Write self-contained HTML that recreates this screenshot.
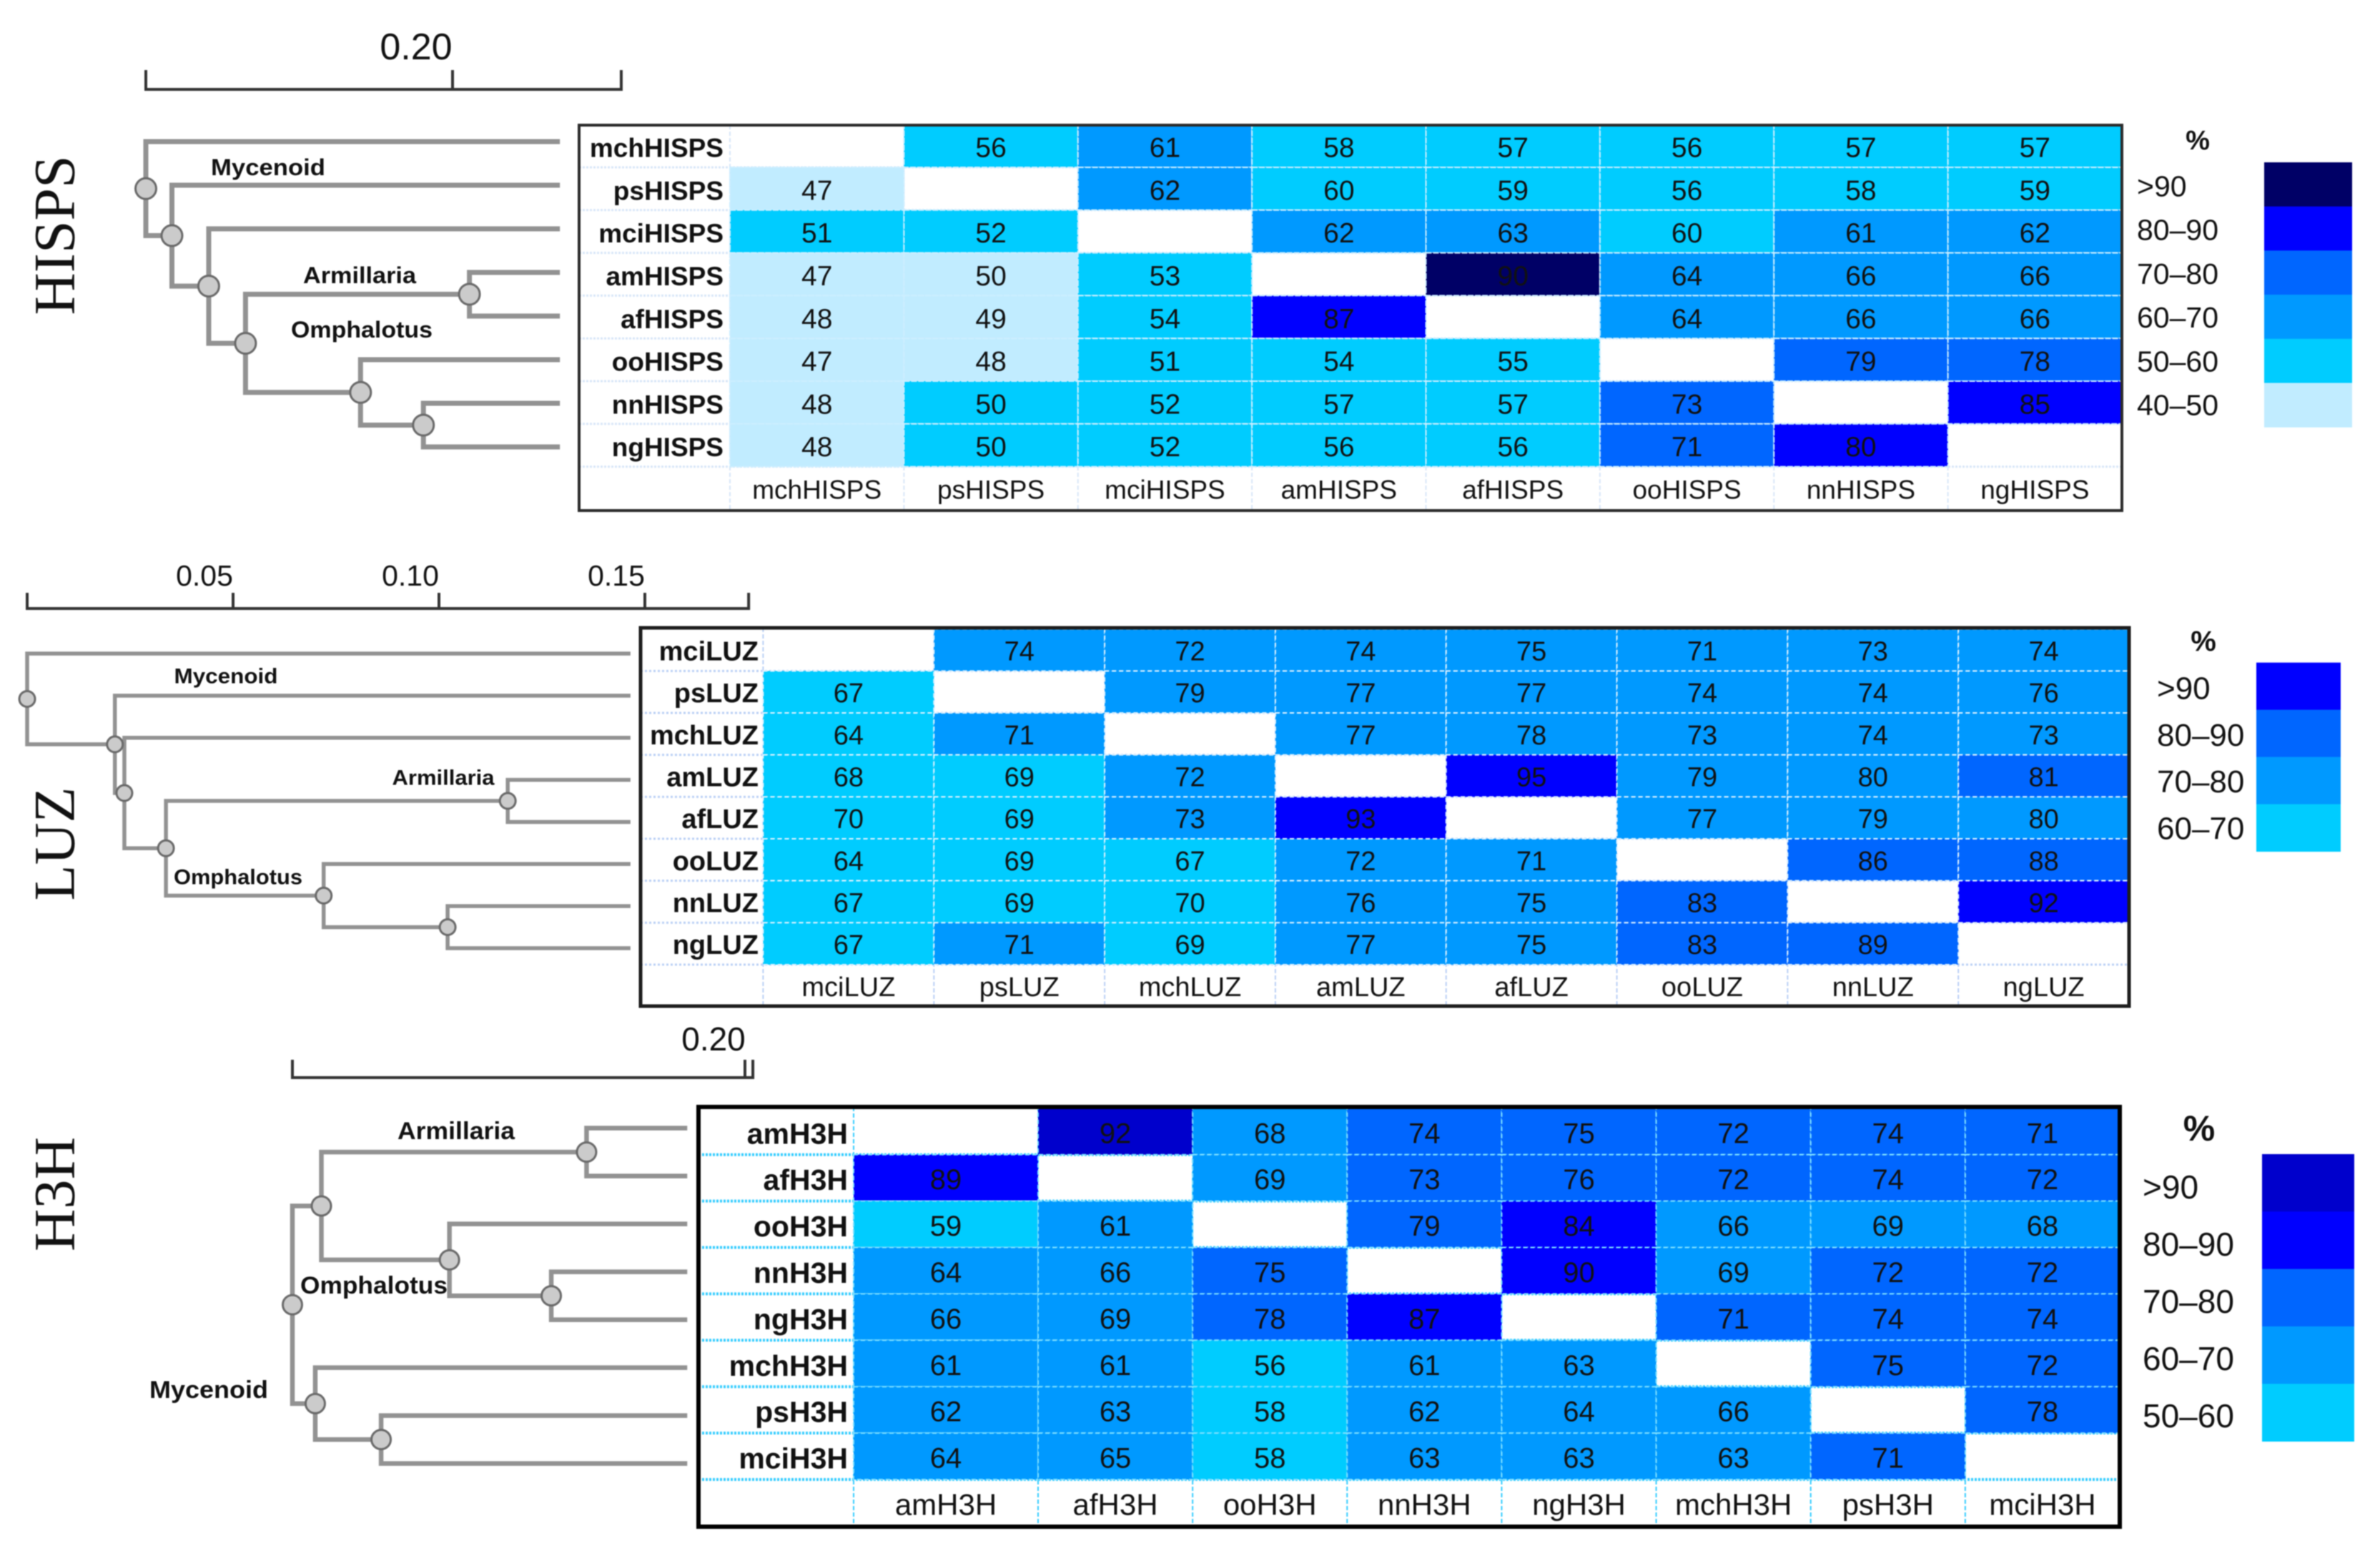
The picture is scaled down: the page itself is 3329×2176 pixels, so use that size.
<!DOCTYPE html>
<html lang="en">
<head>
<meta charset="utf-8">
<title>HISPS, LUZ and H3H identity matrices with phylogenetic trees</title>
<style>
html,body{margin:0;padding:0;background:#fff;overflow:hidden;}
svg{display:block;filter:blur(0.8px);}
text{font-family:"Liberation Sans",sans-serif;fill:#111;}
.panel-title{font-family:"Liberation Serif",serif;font-size:82px;fill:#111;}
</style>
</head>
<body>
<svg id="figure" xmlns="http://www.w3.org/2000/svg" width="3329" height="2176" viewBox="0 0 3329 2176">
  <rect width="3329" height="2176" fill="#ffffff"/>
  <g id="panel-hisps">
    <text class="panel-title" transform="translate(76 329) rotate(-90)" text-anchor="middle" dominant-baseline="central" textLength="223" lengthAdjust="spacingAndGlyphs">HISPS</text>
    <text x="375" y="234" text-anchor="middle" dominant-baseline="central" font-size="32" font-weight="bold" textLength="160" lengthAdjust="spacingAndGlyphs">Mycenoid</text>
    <text x="503" y="385" text-anchor="middle" dominant-baseline="central" font-size="32" font-weight="bold" textLength="158" lengthAdjust="spacingAndGlyphs">Armillaria</text>
    <text x="506" y="461" text-anchor="middle" dominant-baseline="central" font-size="32" font-weight="bold" textLength="198" lengthAdjust="spacingAndGlyphs">Omphalotus</text>
  </g>
  <g id="panel-luz">
    <text class="panel-title" transform="translate(76 1180) rotate(-90)" text-anchor="middle" dominant-baseline="central" textLength="159" lengthAdjust="spacingAndGlyphs">LUZ</text>
    <text x="316" y="946" text-anchor="middle" dominant-baseline="central" font-size="30" font-weight="bold" textLength="145" lengthAdjust="spacingAndGlyphs">Mycenoid</text>
    <text x="620" y="1088" text-anchor="middle" dominant-baseline="central" font-size="30" font-weight="bold" textLength="143" lengthAdjust="spacingAndGlyphs">Armillaria</text>
    <text x="333" y="1227" text-anchor="middle" dominant-baseline="central" font-size="30" font-weight="bold" textLength="180" lengthAdjust="spacingAndGlyphs">Omphalotus</text>
  </g>
  <g id="panel-h3h">
    <text class="panel-title" transform="translate(76 1670) rotate(-90)" text-anchor="middle" dominant-baseline="central" textLength="160" lengthAdjust="spacingAndGlyphs">H3H</text>
    <text x="638" y="1582" text-anchor="middle" dominant-baseline="central" font-size="34" font-weight="bold" textLength="164" lengthAdjust="spacingAndGlyphs">Armillaria</text>
    <text x="523" y="1798" text-anchor="middle" dominant-baseline="central" font-size="34" font-weight="bold" textLength="206" lengthAdjust="spacingAndGlyphs">Omphalotus</text>
    <text x="292" y="1944" text-anchor="middle" dominant-baseline="central" font-size="34" font-weight="bold" textLength="166" lengthAdjust="spacingAndGlyphs">Mycenoid</text>
  </g>
</svg>
<script>
// ---------- HISPS data ----------
const hispsTaxa = ['mchHISPS','psHISPS','mciHISPS','amHISPS','afHISPS','ooHISPS','nnHISPS','ngHISPS'];
const hispsValues = [
  [null,56,61,58,57,56,57,57],
  [47,null,62,59.6,59,56,58,59],
  [51,52,null,62,63,59.6,61,62],
  [47,49.6,53,null,90,64,66,66],
  [48,49,54,87,null,64,66,66],
  [47,48,51,54,55,null,79,78],
  [48,50,52,57,57,73,null,85],
  [48,50,52,56,56,71,80,null]
];
const hispsBandLabels = ['>90','80–90','70–80','60–70','50–60','40–50'];
const hispsBandFloors = [90,80,70,60,50,40];
const hispsTicks = [0.20];
const hispsBarEnd = 0.31;
const hispsLeafDepth = 0.27;
const hispsTree = [0,'mchHISPS',[0.017,'psHISPS',[0.041,'mciHISPS',[0.065,[0.211,'amHISPS','afHISPS'],[0.14,'ooHISPS',[0.181,'nnHISPS','ngHISPS']]]]]];

// ---------- LUZ data ----------
const luzTaxa = ['mciLUZ','psLUZ','mchLUZ','amLUZ','afLUZ','ooLUZ','nnLUZ','ngLUZ'];
const luzValues = [
  [null,74,72,74,75,71,73,74],
  [67,null,79,77,77,74,74,76],
  [64,71,null,77,78,73,74,73],
  [68,69,72,null,95,79,79.6,81],
  [69.6,69,73,93,null,77,79,79.6],
  [64,69,67,72,71,null,86,88],
  [67,69,69.6,76,75,83,null,92],
  [67,71,69,77,75,83,89,null]
];
const luzBandLabels = ['>90','80–90','70–80','60–70'];
const luzBandFloors = [90,80,70,60];
const luzTicks = [0.05,0.10,0.15];
const luzBarEnd = 0.1752;
const luzLeafDepth = 0.1465;
const luzTree = [0,'mciLUZ',[0.0213,'psLUZ',[0.0236,'mchLUZ',[0.0337,[0.1167,'amLUZ','afLUZ'],[0.072,'ooLUZ',[0.1021,'nnLUZ','ngLUZ']]]]]];

// ---------- H3H data ----------
const h3hTaxa = ['amH3H','afH3H','ooH3H','nnH3H','ngH3H','mchH3H','psH3H','mciH3H'];
const h3hValues = [
  [null,92,68,74,75,72,74,71],
  [89,null,69,73,76,72,74,72],
  [59,61,null,79,84,66,69,68],
  [64,66,75,null,89.6,69,72,72],
  [66,69,78,87,null,71,74,74],
  [61,61,56,61,63,null,75,72],
  [62,63,58,62,64,66,null,78],
  [64,65,58,63,63,63,71,null]
];
const h3hBandLabels = ['>90','80–90','70–80','60–70','50–60'];
const h3hBandFloors = [90,80,70,60,50];
const h3hTicks = [0.20];
const h3hBarEnd = 0.2035;
const h3hLeafDepth = 0.1745;
const h3hTree = [0,[0.0128,[0.13,'amH3H','afH3H'],[0.0694,'ooH3H',[0.1144,'nnH3H','ngH3H']]],[0.0101,'mchH3H',[0.0392,'psH3H','mciH3H']]];

// ---------- colour ramps (one per legend) ----------
const hispsRamp = ['#000066','#0000ff','#0066ff','#0099ff','#00ccff','#c1ecff'];
const luzRamp = ['#0000ff','#0066ff','#0099ff','#00ccff'];
const h3hRamp = ['#0000cc','#0000ff','#0066ff','#0099ff','#00ccff'];

const SVGNS = 'http://www.w3.org/2000/svg';

function mk(parent, tag, attrs, content) {
  const el = document.createElementNS(SVGNS, tag);
  for (const k in attrs) el.setAttribute(k, attrs[k]);
  if (content !== undefined) el.textContent = content;
  parent.appendChild(el);
  return el;
}

function bandIndex(value, floors) {
  for (let i = 0; i < floors.length; i++) {
    if (value >= floors[i]) return i;
  }
  return floors.length - 1;
}

function drawScaleBar(root, p) {
  const sx = d => p.treeX0 + d * p.treePx;
  const bar = mk(root, 'path', {
    d: 'M' + sx(0) + ' ' + p.barTop + 'V' + p.barY + 'H' + sx(p.barEnd) + 'V' + p.barTop,
    fill: 'none', stroke: '#333', 'stroke-width': 4
  });
  
  
  p.ticks.forEach(function (t) {
    const tick = mk(root, 'line', {x1: sx(t), x2: sx(t), y1: p.barTop, y2: p.barY, stroke: '#333', 'stroke-width': 4});
    
    
    const label = mk(root, 'text', {
      x: sx(t) + p.tickDx, y: p.tickLabelY, 'text-anchor': 'middle', 'dominant-baseline': 'central',
      'font-size': p.tickFont
    }, t.toFixed(2));
    
    
  });
}

function drawTree(root, p) {
  const sx = d => p.treeX0 + d * p.treePx;
  const leafY = i => p.leafY0 + i * p.leafStep;
  const leafX = sx(p.leafDepth);
  const nodes = [];
  let next = 0;
  function branch(d) {
    const b = mk(root, 'path', {d: d, fill: 'none', stroke: '#929292', 'stroke-width': p.lineW, 'stroke-linecap': 'butt', 'stroke-linejoin': 'miter'});
    
    
  }
  function walk(node) {
    if (typeof node === 'string') {
      return {x: leafX, y: leafY(next++)};
    }
    const x = sx(node[0]);
    const a = walk(node[1]);
    const b = walk(node[2]);
    const y = (a.y + b.y) / 2;
    branch('M' + a.x + ' ' + a.y + 'H' + x + 'V' + b.y + 'H' + b.x);
    nodes.push({x: x, y: y});
    return {x: x, y: y};
  }
  walk(p.tree);
  nodes.forEach(function (n) {
    const c = mk(root, 'ellipse', {cx: n.x, cy: n.y, rx: p.nodeR, ry: p.nodeR, fill: '#cbcbcb', stroke: '#6a6a6a', 'stroke-width': 3});
    
    
  });
}

function drawMatrix(root, p) {
  const n = p.taxa.length;
  const dataW = p.right - p.labelRight;
  const restW = (dataW - p.firstCol) / (n - 1);
  const colX = i => i === 0 ? p.labelRight : p.labelRight + p.firstCol + (i - 1) * restW;
  const colW = i => i === 0 ? p.firstCol : restW;
  const rowY = i => p.top + i * p.rowH;

  for (let r = 1; r <= n; r++) {
    const g = mk(root, 'line', {
      x1: p.boxX, x2: p.right, y1: rowY(r), y2: rowY(r),
      stroke: p.gridA, 'stroke-width': p.gridAW, 'stroke-dasharray': p.gridADash
    });
    
    
  }
  for (let c = 0; c < n; c++) {
    const g = mk(root, 'line', {
      x1: colX(c), x2: colX(c), y1: p.boxY, y2: p.boxB,
      stroke: p.gridA, 'stroke-width': 2, 'stroke-dasharray': '6 3'
    });
    
    
  }

  p.values.forEach(function (row, r) {
    row.forEach(function (v, c) {
      if (v === null) return;
      const rect = mk(root, 'rect', {
        x: colX(c), y: rowY(r), width: colW(c), height: p.rowH,
        fill: p.ramp[bandIndex(v, p.floors)],
        stroke: p.gridB, 'stroke-width': 2, 'stroke-dasharray': p.gridBDash
      });
      
      
      const label = mk(root, 'text', {
        x: colX(c) + colW(c) / 2, y: rowY(r) + p.rowH / 2 + p.textDy,
        'text-anchor': 'middle', 'dominant-baseline': 'central', 'font-size': p.cellFont
      }, String(Math.round(v)));
      
      
    });
  });

  p.taxa.forEach(function (t, i) {
    const rowLabel = mk(root, 'text', {
      x: p.rowLabelX, y: rowY(i) + p.rowH / 2 + p.textDy, 'text-anchor': 'end', 'dominant-baseline': 'central',
      'font-size': p.rowFont, 'font-weight': 'bold'
    }, t);
    
    
    const colLabel = mk(root, 'text', {
      x: colX(i) + colW(i) / 2, y: p.colLabelY, 'text-anchor': 'middle', 'dominant-baseline': 'central',
      'font-size': p.colFont
    }, t);
    
    
  });

  const box = mk(root, 'rect', {
    x: p.boxX, y: p.boxY, width: p.right - p.boxX, height: p.boxB - p.boxY,
    fill: 'none', stroke: p.boxColor, 'stroke-width': p.boxW
  });
  
  
}

function drawLegend(root, p) {
  const pct = mk(root, 'text', {
    x: p.pctX, y: p.pctY, 'text-anchor': 'middle', 'dominant-baseline': 'central',
    'font-size': p.pctFont, 'font-weight': 'bold'
  }, '%');
  
  
  p.bandLabels.forEach(function (lab, i) {
    const t = mk(root, 'text', {
      x: p.legLabelX, y: p.legLabelY + i * p.legLabelStep, 'dominant-baseline': 'central', 'font-size': p.legFont
    }, lab);
    
    
    const s = mk(root, 'rect', {
      x: p.swX, y: p.swY + i * p.swH, width: p.swW, height: p.swH + 0.5, fill: p.ramp[i]
    });
    
    
  });
}

const panels = [
  {
    id: 'hisps', root: 'panel-hisps', taxa: hispsTaxa, values: hispsValues, floors: hispsBandFloors,
    bandLabels: hispsBandLabels, ramp: hispsRamp, ticks: hispsTicks, barEnd: hispsBarEnd, tree: hispsTree, leafDepth: hispsLeafDepth,
    treeX0: 204, treePx: 2145, barY: 125, barTop: 98, tickDx: -51, tickLabelY: 66, tickFont: 52,
    leafY0: 198, leafStep: 61, lineW: 7, nodeR: 14.5,
    boxX: 810, boxY: 175, boxB: 714, boxW: 4, boxColor: '#2b2b2b', right: 2968, labelRight: 1021, firstCol: 243.4,
    top: 174.2, rowH: 59.8, textDy: 3, cellFont: 39, rowFont: 37, colFont: 37, rowLabelX: 1012, colLabelY: 685,
    gridA: '#d8e6f8', gridAW: 3, gridADash: '3 2', gridB: '#cdeeff', gridBDash: '8 2',
    pctX: 3074, pctY: 197, pctFont: 38, legLabelX: 2989, legLabelY: 260.5, legLabelStep: 61.2, legFont: 41,
    swX: 3167, swY: 227, swW: 123, swH: 61.7
  },
  {
    id: 'luz', root: 'panel-luz', taxa: luzTaxa, values: luzValues, floors: luzBandFloors,
    bandLabels: luzBandLabels, ramp: luzRamp, ticks: luzTicks, barEnd: luzBarEnd, tree: luzTree, leafDepth: luzLeafDepth,
    treeX0: 38, treePx: 5760, barY: 851, barTop: 829, tickDx: -40, tickLabelY: 805, tickFont: 41,
    leafY0: 914, leafStep: 58.86, lineW: 5.5, nodeR: 11,
    boxX: 896, boxY: 878, boxB: 1407, boxW: 5, boxColor: '#1d1d1d', right: 2978, labelRight: 1067.4, firstCol: 238.9,
    top: 879.7, rowH: 58.66, textDy: 2.5, cellFont: 38, rowFont: 38, colFont: 38, rowLabelX: 1061, colLabelY: 1381,
    gridA: '#b9cff5', gridAW: 3, gridADash: '3 3', gridB: '#dff2ff', gridBDash: '6 4',
    pctX: 3082, pctY: 897, pctFont: 40, legLabelX: 3017, legLabelY: 963, legLabelStep: 65.3, legFont: 44,
    swX: 3156, swY: 926.6, swW: 118, swH: 66
  },
  {
    id: 'h3h', root: 'panel-h3h', taxa: h3hTaxa, values: h3hValues, floors: h3hBandFloors,
    bandLabels: h3hBandLabels, ramp: h3hRamp, ticks: h3hTicks, barEnd: h3hBarEnd, tree: h3hTree, leafDepth: h3hLeafDepth,
    treeX0: 409, treePx: 3165, barY: 1507, barTop: 1482, tickDx: -44, tickLabelY: 1453, tickFont: 46,
    leafY0: 1577.6, leafStep: 67, lineW: 6.5, nodeR: 13.5,
    boxX: 977, boxY: 1548, boxB: 2135, boxW: 6, boxColor: '#000000', right: 2965, labelRight: 1194, firstCol: 258,
    top: 1549.8, rowH: 64.9, textDy: 3, cellFont: 40, rowFont: 41, colFont: 42, rowLabelX: 1186, colLabelY: 2104,
    gridA: '#33ccff', gridAW: 4, gridADash: '3 2', gridB: '#7fe0ff', gridBDash: '6 4',
    pctX: 3076, pctY: 1578, pctFont: 50, legLabelX: 2997, legLabelY: 1660, legLabelStep: 80, legFont: 46,
    swX: 3164, swY: 1614, swW: 129, swH: 80.3
  }
];

panels.forEach(function (p) {
  const root = document.getElementById(p.root);
  drawScaleBar(root, p);
  drawTree(root, p);
  drawMatrix(root, p);
  drawLegend(root, p);
  // keep the clade labels above the tree branches
  Array.from(root.querySelectorAll('text[textLength]')).forEach(function (t) { root.appendChild(t); });
});
</script>
</body>
</html>
